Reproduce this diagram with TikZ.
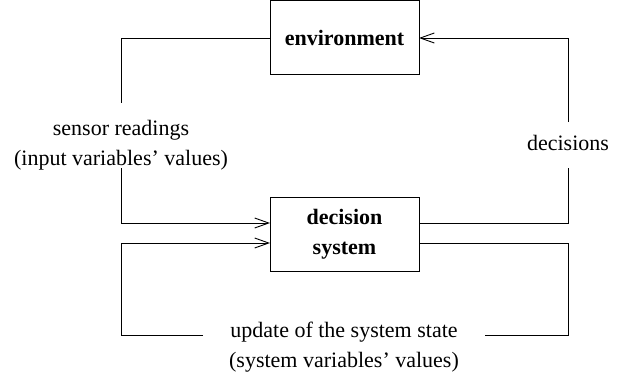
\documentclass[tikz,border=0pt]{standalone}
\usepackage{fontspec}
\setmainfont{Liberation Serif}
\usetikzlibrary{arrows.meta}
\begin{document}
\begin{tikzpicture}[x=1pt,y=-1pt,
  every node/.style={font=\fontsize{22}{30}\selectfont},
  block/.style={draw, line width=0.9pt, minimum width=149pt, minimum height=74pt,
    inner sep=0pt, align=center, font=\fontsize{22}{30}\selectfont\bfseries},
  lbl/.style={inner sep=0pt, align=center},
  link/.style={line width=0.9pt},
  tip/.style={link, -{Straight Barb[length=14pt, width=10pt, line width=0.9pt]}}]
  \useasboundingbox (0,0) rectangle (623,381);

  % the two blocks
  \node[block] (env) at (344.5,37.5) {environment};
  \node[block] (dec) at (344.5,234) {decision\\system};

  % labels that interrupt the loops
  \node[lbl] (sensor) at (121,145) {sensor readings\\(input variables' values)};
  \node[lbl] (decs) at (568,143) {decisions};
  \node[lbl] (upd) at (344,347) {update of the system state\\(system variables' values)};

  % connector ends on the blocks
  \coordinate (dinU) at (270,223);
  \coordinate (dinL) at (270,243);
  \coordinate (doutU) at (419,223);
  \coordinate (doutL) at (419,243);
  \coordinate (envin) at (419,38);
  \coordinate (envout) at (270,38);

  % ends of the lines at the label gaps
  \coordinate (sensT) at (121,103);
  \coordinate (sensB) at (121,168);
  \coordinate (decT) at (568,122);
  \coordinate (decB) at (568,168);
  \coordinate (gapL) at (203,335);
  \coordinate (gapR) at (485,335);

  % environment -> decision system
  \draw[link] (envout) -| (sensT);
  \draw[tip] (sensB) |- (dinU);

  % decision system -> environment
  \draw[link] (doutU) -| (decB);
  \draw[tip] (decT) |- (envin);

  % state feedback loop
  \draw[link] (doutL) -- (568,243) |- (gapR);
  \draw[tip] (gapL) -- (121,335) |- (dinL);
\end{tikzpicture}
\end{document}
